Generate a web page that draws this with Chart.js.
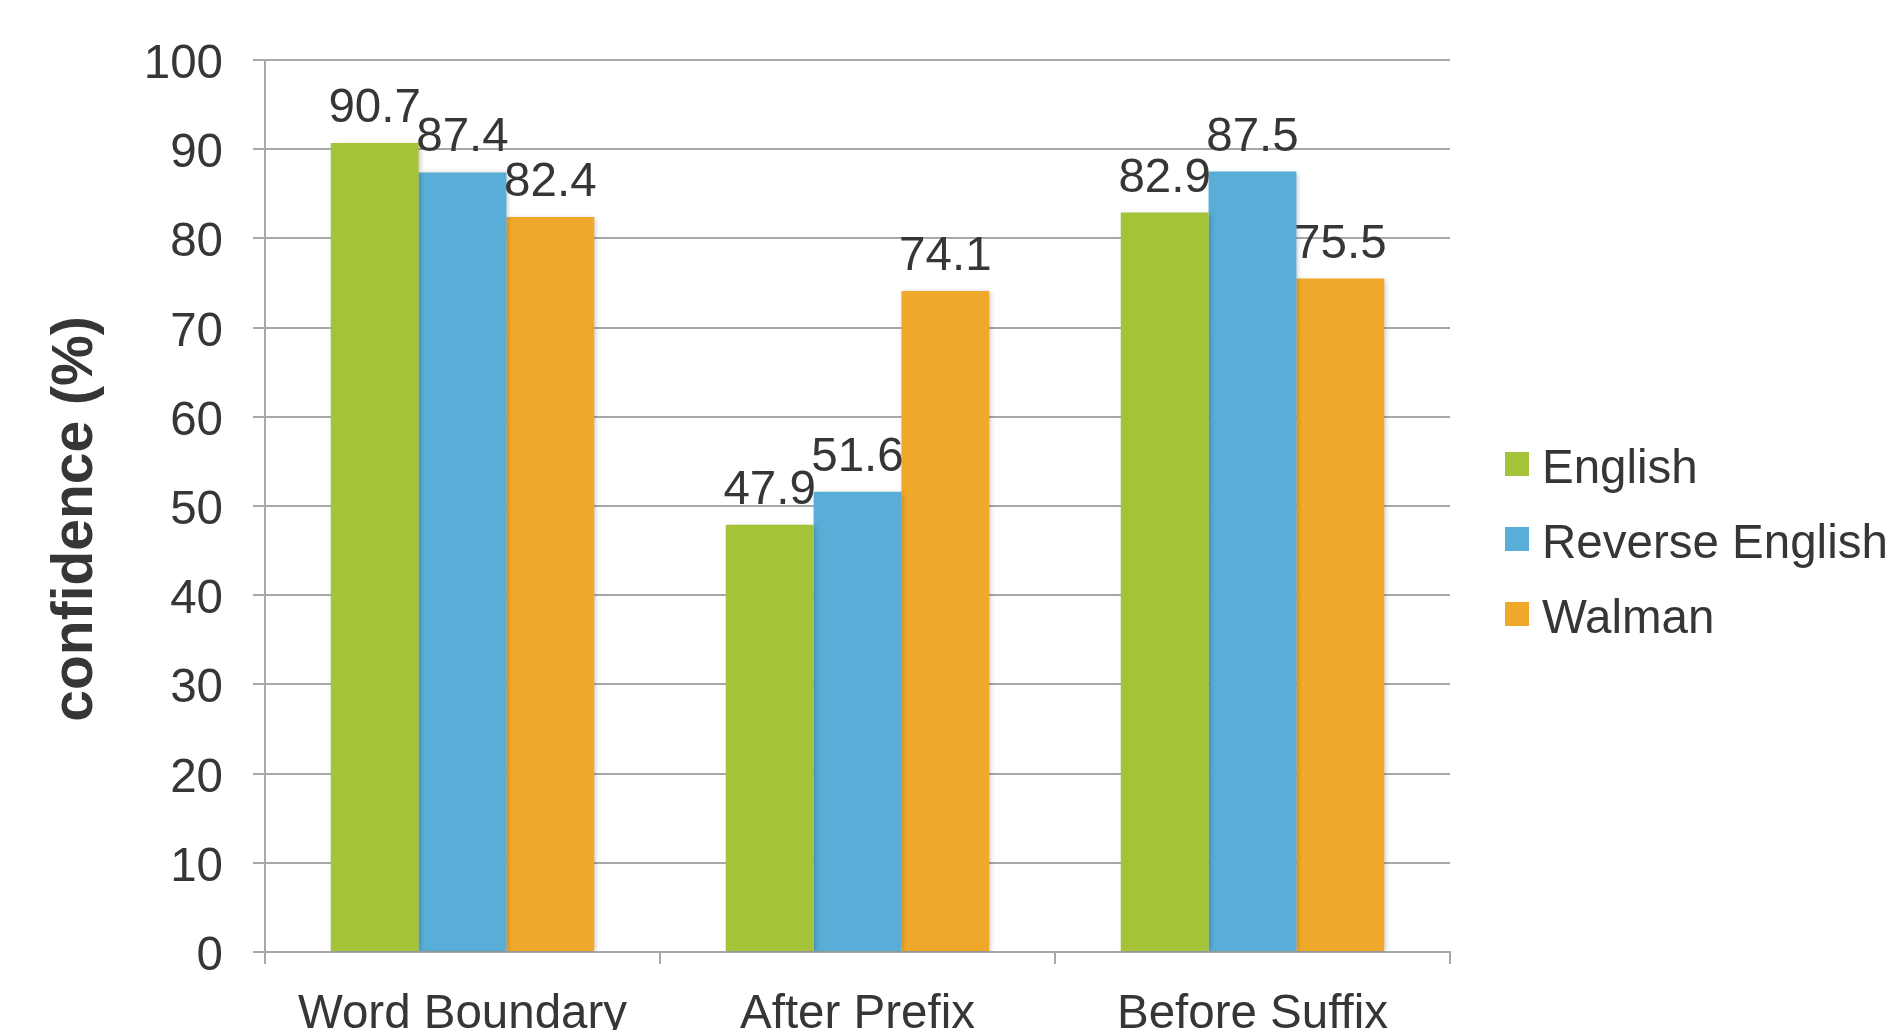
<!DOCTYPE html>
<html>
<head>
<meta charset="utf-8">
<script src="https://cdn.jsdelivr.net/npm/chart.js@4.4.1/dist/chart.umd.min.js"></script>
<style>
  html, body { margin: 0; padding: 0; background: #ffffff; overflow: hidden; }
  #wrap { width: 1889px; height: 1030px; position: relative; }
</style>
</head>
<body>
<div id="wrap"><canvas id="chart" width="1889" height="1030"></canvas></div>
<script>
// Categories along the x axis
const categories = ['Word Boundary', 'After Prefix', 'Before Suffix'];

// Series values (confidence, %)
const seriesNames = ['English', 'Reverse English', 'Walman'];
const englishValues = [90.7, 47.9, 82.9];
const reverseEnglishValues = [87.4, 51.6, 87.5];
const walmanValues = [82.4, 74.1, 75.5];

// Y axis ticks
const yTicks = [0, 10, 20, 30, 40, 50, 60, 70, 80, 90, 100];
const yTitle = 'confidence (%)';

const seriesColors = ['#A5C339', '#59AED7', '#F0A82B'];
const textColor = '#363636';
const gridColor = '#a8a8a8';
const fontFamily = '"Liberation Sans", Arial, Helvetica, sans-serif';
const textSize = 47.5;

// Value labels above each bar
const valueLabels = {
  id: 'valueLabels',
  afterDatasetsDraw(chart) {
    const ctx = chart.ctx;
    ctx.save();
    ctx.font = textSize + 'px ' + fontFamily;
    ctx.fillStyle = textColor;
    ctx.textAlign = 'center';
    ctx.textBaseline = 'alphabetic';
    chart.data.datasets.forEach((ds, i) => {
      const meta = chart.getDatasetMeta(i);
      meta.data.forEach((bar, j) => {
        ctx.fillText(ds.data[j].toFixed(1), bar.x, bar.y - 21);
      });
    });
    ctx.restore();
  }
};

// Soft drop shadow behind the bars
const barShadow = {
  id: 'barShadow',
  beforeDatasetDraw(chart) {
    const ctx = chart.ctx;
    ctx.save();
    ctx.shadowColor = 'rgba(0,0,0,0.22)';
    ctx.shadowBlur = 5;
    ctx.shadowOffsetX = 2;
    ctx.shadowOffsetY = 1;
  },
  afterDatasetDraw(chart) {
    chart.ctx.restore();
  }
};

// Legend on the right: square swatch + series name
const sideLegend = {
  id: 'sideLegend',
  afterDraw(chart) {
    const ctx = chart.ctx;
    const x0 = chart.chartArea.right + 55;
    const yFirst = chart.chartArea.top + 404;
    const step = 75;
    const box = 24;
    ctx.save();
    ctx.font = textSize + 'px ' + fontFamily;
    ctx.textBaseline = 'middle';
    ctx.textAlign = 'left';
    chart.data.datasets.forEach((ds, i) => {
      const cy = yFirst + i * step;
      ctx.fillStyle = ds.backgroundColor;
      ctx.fillRect(x0, cy - box / 2, box, box);
      ctx.fillStyle = textColor;
      ctx.fillText(ds.label, x0 + box + 13, cy + 6);
    });
    ctx.restore();
  }
};

const datasetValues = [englishValues, reverseEnglishValues, walmanValues];

new Chart(document.getElementById('chart'), {
  type: 'bar',
  data: {
    labels: categories,
    datasets: seriesNames.map((name, i) => ({
      label: name,
      data: datasetValues[i],
      backgroundColor: seriesColors[i],
      borderWidth: 0,
      categoryPercentage: 0.667,
      barPercentage: 1.0
    }))
  },
  options: {
    responsive: false,
    devicePixelRatio: 1,
    animation: false,
    layout: { padding: { top: 60, right: 439, bottom: 0, left: 0 } },
    plugins: {
      legend: { display: false },
      tooltip: { enabled: false }
    },
    scales: {
      x: {
        offset: true,
        grid: {
          offset: true,
          drawOnChartArea: false,
          drawTicks: true,
          tickLength: 12,
          color: gridColor,
          lineWidth: 2
        },
        border: { display: true, color: gridColor, width: 2 },
        ticks: {
          color: textColor,
          font: { family: fontFamily, size: textSize },
          padding: 22,
          maxRotation: 0,
          autoSkip: false
        },
        afterFit(scale) { scale.height = 78; }
      },
      y: {
        min: 0,
        max: 100,
        afterBuildTicks(scale) { scale.ticks = yTicks.map(v => ({ value: v })); },
        grid: {
          drawTicks: true,
          tickLength: 12,
          color: gridColor,
          lineWidth: 2
        },
        border: { display: true, color: gridColor, width: 2 },
        ticks: {
          color: textColor,
          font: { family: fontFamily, size: textSize },
          padding: 30,
          labelOffset: 5
        },
        title: {
          display: true,
          text: yTitle,
          color: textColor,
          font: { family: fontFamily, size: 57, weight: 'bold' },
          padding: { top: 42, bottom: 0 }
        },
        afterFit(scale) {
          scale.width = 265;
          // nudge the axis title a little below the axis midpoint
          if (!scale._titleNudged) {
            const base = scale.drawTitle;
            scale.drawTitle = function () {
              this.ctx.save();
              this.ctx.translate(0, 13);
              base.call(this);
              this.ctx.restore();
            };
            scale._titleNudged = true;
          }
        }
      }
    }
  },
  plugins: [barShadow, valueLabels, sideLegend]
});
</script>
</body>
</html>
